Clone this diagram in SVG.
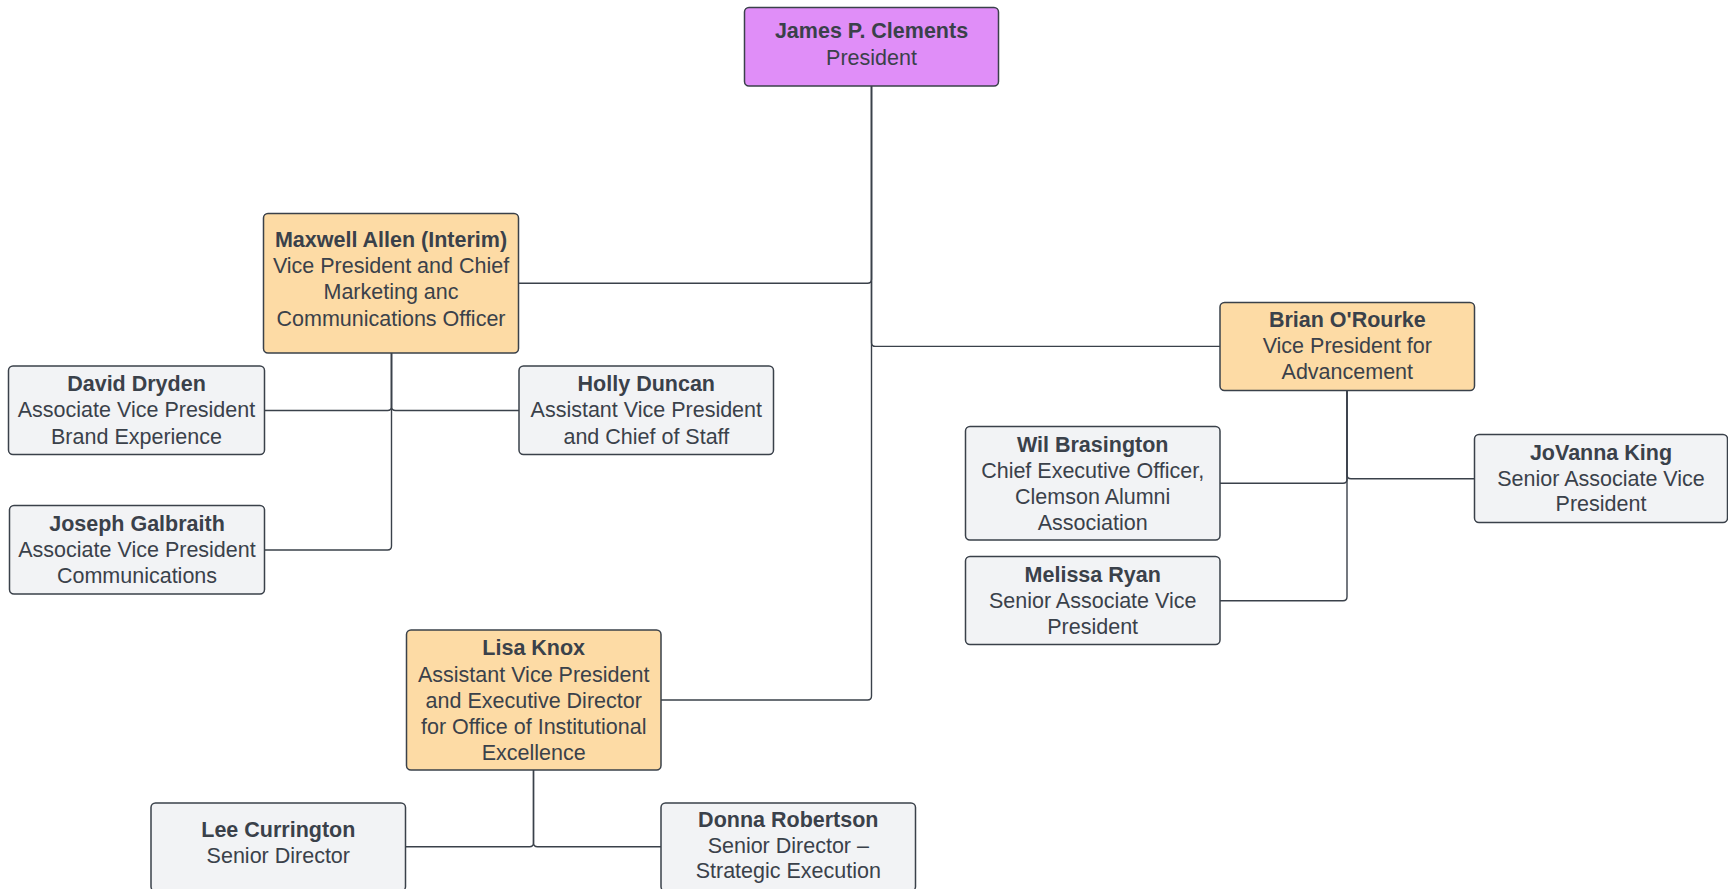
<svg xmlns="http://www.w3.org/2000/svg" width="1728" height="889" viewBox="0 0 1728 889">
<style>
.box{stroke:#3a414a;stroke-width:1.5}
.pres{fill:#e08ef8}
.vp{fill:#fddba5}
.st{fill:#f2f3f5}
text{font-family:"Liberation Sans",Arial,sans-serif;font-size:21.5px;fill:#3a414a;text-anchor:middle}
.b{font-weight:bold}
.c{fill:none;stroke:#3a414a;stroke-width:1.4}
</style>
<rect width="1728" height="889" fill="#ffffff"/>
<g id="connectors">
<path class="c" d="M871.5 86 V279.3 q0 4 -4 4 H518.5"/>
<path class="c" d="M871.5 86 V342.4 q0 4 4 4 H1220"/>
<path class="c" d="M871.5 86 V696 q0 4 -4 4 H661"/>
<path class="c" d="M391.5 353 V406.5 q0 4 -4 4 H264.5"/>
<path class="c" d="M391.5 353 V406.5 q0 4 4 4 H519"/>
<path class="c" d="M391.5 353 V546 q0 4 -4 4 H264.5"/>
<path class="c" d="M1347 390.5 V479.3 q0 4 -4 4 H1220"/>
<path class="c" d="M1347 390.5 V474.7 q0 4 4 4 H1474.5"/>
<path class="c" d="M1347 390.5 V596.7 q0 4 -4 4 H1220"/>
<path class="c" d="M533.5 770 V842.7 q0 4 -4 4 H405.5"/>
<path class="c" d="M533.5 770 V842.7 q0 4 4 4 H661"/>
</g>
<g id="president">
<rect class="box pres" x="744.5" y="7.5" width="254" height="78.5" rx="4.5"/>
<text x="871.5" y="38.3" class="b">James P. Clements</text>
<text x="871.5" y="64.5">President</text>
</g>
<g id="maxwell">
<rect class="box vp" x="263.5" y="213.5" width="255" height="139.5" rx="4.5"/>
<text x="391" y="246.7" class="b">Maxwell Allen (Interim)</text>
<text x="391" y="273">Vice President and Chief</text>
<text x="391" y="299.3">Marketing anc</text>
<text x="391" y="325.7">Communications Officer</text>
</g>
<g id="david">
<rect class="box st" x="8.5" y="366" width="256" height="88.5" rx="4.5"/>
<text x="136.5" y="391" class="b">David Dryden</text>
<text x="136.5" y="417.3">Associate Vice President</text>
<text x="136.5" y="443.6">Brand Experience</text>
</g>
<g id="holly">
<rect class="box st" x="519" y="366" width="254.5" height="88.5" rx="4.5"/>
<text x="646.3" y="391" class="b">Holly Duncan</text>
<text x="646.3" y="417.3">Assistant Vice President</text>
<text x="646.3" y="443.6">and Chief of Staff</text>
</g>
<g id="joseph">
<rect class="box st" x="9.5" y="505.5" width="255" height="88.5" rx="4.5"/>
<text x="137" y="530.5" class="b">Joseph Galbraith</text>
<text x="137" y="556.8">Associate Vice President</text>
<text x="137" y="583.1">Communications</text>
</g>
<g id="brian">
<rect class="box vp" x="1220" y="302.5" width="254.5" height="88" rx="4.5"/>
<text x="1347.3" y="326.7" class="b">Brian O'Rourke</text>
<text x="1347.3" y="353.3">Vice President for</text>
<text x="1347.3" y="379.3">Advancement</text>
</g>
<g id="wil">
<rect class="box st" x="965.5" y="426.5" width="254.5" height="113.5" rx="4.5"/>
<text x="1092.7" y="451.5" class="b">Wil Brasington</text>
<text x="1092.7" y="477.8">Chief Executive Officer,</text>
<text x="1092.7" y="504.1">Clemson Alumni</text>
<text x="1092.7" y="530.4">Association</text>
</g>
<g id="jovanna">
<rect class="box st" x="1474.5" y="434.5" width="253" height="88" rx="4.5"/>
<text x="1601" y="460" class="b">JoVanna King</text>
<text x="1601" y="486">Senior Associate Vice</text>
<text x="1601" y="511.3">President</text>
</g>
<g id="melissa">
<rect class="box st" x="965.5" y="556.5" width="254.5" height="88" rx="4.5"/>
<text x="1092.7" y="581.7" class="b">Melissa Ryan</text>
<text x="1092.7" y="608">Senior Associate Vice</text>
<text x="1092.7" y="634.3">President</text>
</g>
<g id="lisa">
<rect class="box vp" x="406.5" y="630" width="254.5" height="140" rx="4.5"/>
<text x="533.7" y="655" class="b">Lisa Knox</text>
<text x="533.7" y="682.3">Assistant Vice President</text>
<text x="533.7" y="708.3">and Executive Director</text>
<text x="533.7" y="734.3">for Office of Institutional</text>
<text x="533.7" y="760">Excellence</text>
</g>
<g id="lee">
<rect class="box st" x="151" y="803" width="254.5" height="88" rx="4.5"/>
<text x="278.3" y="837.3" class="b">Lee Currington</text>
<text x="278.3" y="862.9">Senior Director</text>
</g>
<g id="donna">
<rect class="box st" x="661" y="803" width="254.5" height="88" rx="4.5"/>
<text x="788.3" y="826.7" class="b">Donna Robertson</text>
<text x="788.3" y="852.6">Senior Director –</text>
<text x="788.3" y="878.4">Strategic Execution</text>
</g>
</svg>
